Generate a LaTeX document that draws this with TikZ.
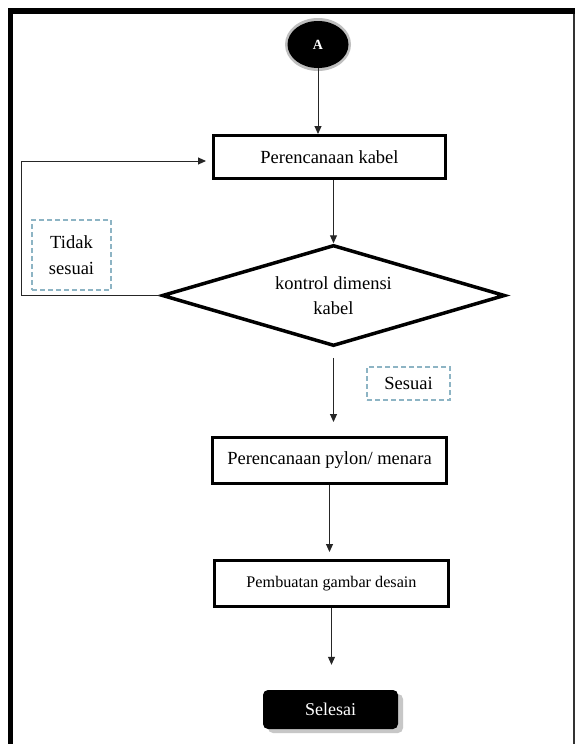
\documentclass[tikz,border=0pt]{standalone}
\usepackage{fontspec}
\setmainfont{Liberation Serif}
\usetikzlibrary{shapes.geometric,arrows.meta}
\tikzset{
  procbox/.style={draw=black,line width=3pt,fill=white,rectangle,inner sep=0pt,font=\fontsize{18.5}{22}\selectfont},
  notebox/.style={draw=notecol,dash pattern=on 5pt off 3pt,line width=1.1pt,inner sep=0pt,align=center,font=\fontsize{18.5}{26}\selectfont},
  arr/.style={draw=black!85,line width=1pt,-{Triangle[length=8pt,width=7pt]}},
}
\definecolor{notecol}{HTML}{8DB4C4}
\begin{document}
\begin{tikzpicture}[x=1pt,y=-1pt]
\useasboundingbox (0,0) rectangle (575,744);
\fill[white] (0,0) rectangle (575,744);
% frame
\fill[black] (8,8) rectangle (575,14);
\fill[black] (8,8) rectangle (12.5,744);
\draw[black!80,line width=1.5pt] (574,14) -- (574,744);
% start
\fill[black!25] (318,44.5) ellipse (33 and 26.5);
\node[ellipse,fill=black,minimum width=61pt,minimum height=47pt,inner sep=0pt,text=white,font=\fontsize{14}{16}\selectfont\bfseries] (A) at (318,44.5) {A};
% process boxes
\node[procbox,minimum width=232pt,minimum height=43pt] (b1) at (329.5,157) {Perencanaan kabel};
\node[diamond,draw=black,line width=3.5pt,fill=white,aspect=3.4,inner sep=0pt,minimum width=343pt,minimum height=101pt,align=center,font=\fontsize{18.5}{25}\selectfont] (d) at (333.5,295.5) {\raisebox{-3pt}{kontrol dimensi}\\\raisebox{-3pt}{kabel}};
\node[procbox,minimum width=234pt,minimum height=46pt] (b2) at (329.5,460.5) {Perencanaan pylon/ menara};
\node[procbox,minimum width=234pt,minimum height=46pt,font=\fontsize{16.2}{20}\selectfont] (b3) at (331.5,583.5) {Pembuatan gambar desain};
% end
\fill[black!22,rounded corners=5pt] (268,694) rectangle (403,733);
\node[rectangle,rounded corners=5pt,fill=black,minimum width=135pt,minimum height=39pt,inner sep=0pt,text=white,font=\fontsize{18}{22}\selectfont] (end) at (330.5,709.5) {Selesai};
% notes
\node[notebox,minimum width=79pt,minimum height=70pt] (n1) at (71.5,255) {Tidak\\sesuai};
\node[notebox,minimum width=83pt,minimum height=33pt] (n2) at (408.5,383.5) {Sesuai};
% connectors
\draw[arr] (A.south) -- (A.south |- b1.north);
\draw[arr] (d.north |- b1.south) -- (d.north);
\draw[arr,shorten <=10pt,shorten >=14pt] (d.south) -- (d.south |- b2.north);
\draw[arr,shorten >=7pt] (b2.south) -- (b2.south |- b3.north);
\draw[arr,shorten >=25pt] (b3.south) -- (b3.south |- end.north);
\coordinate (fb2) at (21,161);
\coordinate (fb1) at (fb2 |- d.west);
\draw[arr,shorten >=6pt] (d.west) -- (fb1) -- (fb2) -- (fb2 -| b1.west);
\end{tikzpicture}
\end{document}
